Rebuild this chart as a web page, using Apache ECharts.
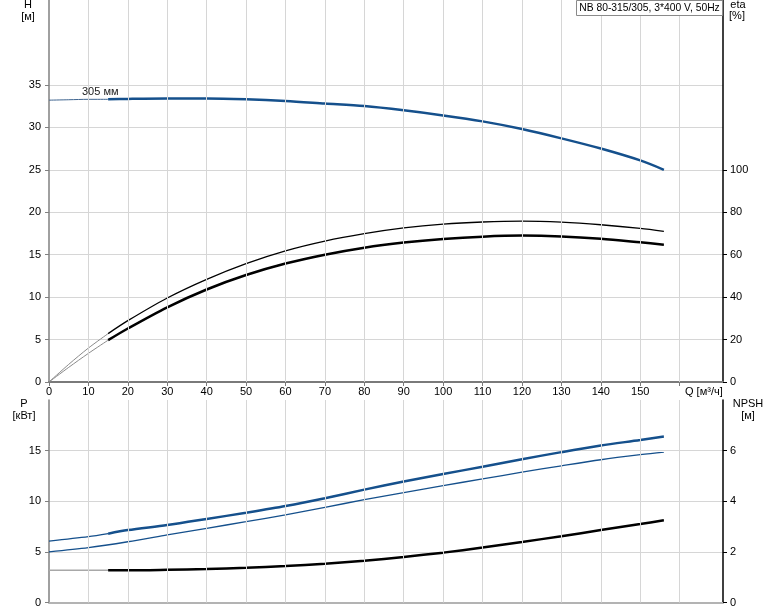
<!DOCTYPE html>
<html><head><meta charset="utf-8">
<script src="https://cdn.jsdelivr.net/npm/echarts@6/dist/echarts.min.js"></script>
<style>html,body{margin:0;padding:0;background:#fff}#c{width:774px;height:611px}</style>
</head><body><div id="c"></div>
<script>
// ---- data ----
const qGrid = [10,20,30,40,50,60,70,80,90,100,110,120,130,140,150,160];
const qTicks = [0,10,20,30,40,50,60,70,80,90,100,110,120,130,140,150,160];
const qLabels = [0,10,20,30,40,50,60,70,80,90,100,110,120,130,140,150];
const hLabels = [0,5,10,15,20,25,30,35];
const etaLabels = [0,20,40,60,80,100];
const pLabels = [0,5,10,15];
const npshLabels = [0,2,4,6];

const qHExt = [0,5,10,15];
const hExt = [33.2,33.25,33.3,33.3];
const qMain = [15,20,30,40,50,60,70,80,90,100,110,120,130,140,150,156];
const hMain = [33.3,33.35,33.4,33.4,33.3,33.1,32.8,32.5,32.0,31.4,30.7,29.8,28.7,27.5,26.1,25.0];

const qEtaExt = [0,5,10,15];
const eta1Ext = [0,8.3,16.0,22.8];
const eta2Ext = [0,6.9,13.5,19.7];
const eta1Main = [22.8,28.9,39.6,48.4,55.8,61.8,66.4,69.9,72.6,74.4,75.4,75.8,75.3,74.1,72.4,71.0];
const eta2Main = [19.7,25.2,35.2,43.6,50.4,55.8,60.0,63.3,65.7,67.4,68.5,69.0,68.6,67.5,65.8,64.7];

const qPExt = [0,10,15];
const p1Ext = [6.06,6.5,6.8];
const p1Main = [6.8,7.15,7.65,8.25,8.87,9.53,10.3,11.15,11.95,12.7,13.4,14.15,14.85,15.5,16.05,16.4];
const qP2 = [0,10,20,30,40,50,60,70,80,90,100,110,120,130,140,150,156];
const p2Vals = [5.0,5.42,6.0,6.67,7.33,7.98,8.65,9.4,10.15,10.85,11.55,12.2,12.87,13.5,14.1,14.6,14.86];

const qNExt = [0,15];
const npshExt = [1.27,1.27];
const npshMain = [1.27,1.27,1.29,1.32,1.37,1.44,1.53,1.65,1.80,1.97,2.17,2.39,2.62,2.86,3.10,3.25];

const curveLabel = {q: 13, h: 33.3, text: '305 мм'};
const titleText = 'NB 80-315/305, 3*400 V, 50Hz';

// ---- styling ----
const FONT = 'Liberation Sans, Arial, sans-serif';
const BLUE = '#15508c';
const GRIDC = '#d6d6d6';
const zip = (xs, ys) => xs.map((x, i) => [x, ys[i]]);
const txt = {color: '#000', fontSize: 11, fontFamily: FONT};

function yAx(grid, pos, max, interval, labels, lineColor, split) {
  return {
    type: 'value', gridIndex: grid, position: pos, min: 0, max: max, interval: interval,
    axisLine: {show: true, onZero: false, lineStyle: {color: lineColor, width: 1.5}},
    axisTick: {show: true, customValues: labels, length: 4, lineStyle: {color: lineColor}},
    axisLabel: Object.assign({show: true, customValues: labels, margin: pos === 'left' ? 8 : 7}, txt),
    splitLine: {show: split, lineStyle: {color: GRIDC, width: 1}}
  };
}

function gridSeries(xi, yi) {
  return {
    type: 'line', xAxisIndex: xi, yAxisIndex: yi, data: [], z: 1, silent: true, animation: false,
    markLine: {
      silent: true, symbol: ['none', 'none'], animation: false,
      label: {show: false},
      lineStyle: {color: GRIDC, width: 1, type: 'solid'},
      emphasis: {disabled: true},
      data: qGrid.map(v => ({xAxis: v}))
    }
  };
}

function line(xi, yi, data, color, width, extra) {
  return Object.assign({
    type: 'line', xAxisIndex: xi, yAxisIndex: yi, data: data, showSymbol: false, symbol: 'none',
    smooth: 0.3, z: 3, silent: true, animation: false,
    lineStyle: {color: color, width: width}
  }, extra || {});
}

const p1Data = zip(qMain, p1Main).map((d, i, a) => i === a.length - 1 ?
  {value: d, label: Object.assign({show: true, formatter: 'P1', position: 'top', distance: 1}, txt, {color: BLUE})} : d);
const p2Data = zip(qP2, p2Vals).map((d, i, a) => i === a.length - 1 ?
  {value: d, label: Object.assign({show: true, formatter: 'P2', position: 'bottom', distance: 2}, txt, {color: BLUE})} : d);

const option = {
  animation: false,
  backgroundColor: '#fff',
  grid: [
    {left: 49, top: 0, width: 674, height: 382},
    {left: 49, top: 400, width: 674, height: 202.5}
  ],
  xAxis: [
    {type: 'value', gridIndex: 0, min: 0, max: 171, interval: 10,
     axisLine: {show: true, onZero: false, lineStyle: {color: '#7a7a7a', width: 2}},
     axisTick: {show: true, customValues: qTicks, length: 4, lineStyle: {color: '#7a7a7a'}},
     axisLabel: Object.assign({show: true, customValues: qLabels, margin: 4}, txt),
     splitLine: {show: false}},
    {type: 'value', gridIndex: 1, min: 0, max: 171, interval: 10,
     axisLine: {show: true, onZero: false, lineStyle: {color: '#b3b3b3', width: 2}},
     axisTick: {show: false}, axisLabel: {show: false}, splitLine: {show: false}}
  ],
  yAxis: [
    yAx(0, 'left', 45, 5, hLabels, '#808080', true),
    yAx(0, 'right', 180, 20, etaLabels, '#000', false),
    yAx(1, 'left', 20, 5, pLabels, '#808080', true),
    yAx(1, 'right', 8, 2, npshLabels, '#000', false)
  ],
  series: [
    gridSeries(0, 0),
    gridSeries(1, 2),
    // H curve
    line(0, 0, zip(qHExt, hExt), '#3f6590', 1, {
      markPoint: {
        symbol: 'circle', symbolSize: 0, silent: true, animation: false,
        label: Object.assign({show: true, position: 'inside', offset: [0, -7], formatter: '{b}'}, txt, {color: '#222'}),
        data: [{name: curveLabel.text, coord: [curveLabel.q, curveLabel.h]}]
      }
    }),
    line(0, 0, zip(qMain, hMain), BLUE, 2.5),
    // efficiency curves
    line(0, 1, zip(qEtaExt, eta1Ext), '#8a8a8a', 1),
    line(0, 1, zip(qEtaExt, eta2Ext), '#8a8a8a', 1),
    line(0, 1, zip(qMain, eta1Main), '#000', 1.3),
    line(0, 1, zip(qMain, eta2Main), '#000', 2.5),
    // power curves
    line(1, 2, zip(qPExt, p1Ext), BLUE, 1.3),
    line(1, 2, p1Data, BLUE, 2.5),
    line(1, 2, p2Data, BLUE, 1.3),
    // NPSH
    line(1, 3, zip(qNExt, npshExt), '#a8a8a8', 1.5),
    line(1, 3, zip(qMain, npshMain), '#000', 2.5)
  ],
  graphic: [
    {type: 'text', x: 28, y: 5, style: {text: 'H', align: 'center', verticalAlign: 'middle', fill: '#000', font: '11px ' + FONT}},
    {type: 'text', x: 28, y: 17, style: {text: '[м]', align: 'center', verticalAlign: 'middle', fill: '#000', font: '11px ' + FONT}},
    {type: 'text', x: 738, y: 5, style: {text: 'eta', align: 'center', verticalAlign: 'middle', fill: '#000', font: '11px ' + FONT}},
    {type: 'text', x: 737, y: 16, style: {text: '[%]', align: 'center', verticalAlign: 'middle', fill: '#000', font: '11px ' + FONT}},
    {type: 'text', x: 24, y: 404, style: {text: 'P', align: 'center', verticalAlign: 'middle', fill: '#000', font: '11px ' + FONT}},
    {type: 'text', x: 24, y: 416, style: {text: '[кВт]', align: 'center', verticalAlign: 'middle', fill: '#000', font: '11px ' + FONT}},
    {type: 'text', x: 748, y: 404, style: {text: 'NPSH', align: 'center', verticalAlign: 'middle', fill: '#000', font: '11px ' + FONT}},
    {type: 'text', x: 748, y: 416, style: {text: '[м]', align: 'center', verticalAlign: 'middle', fill: '#000', font: '11px ' + FONT}},
    {type: 'text', x: 685, y: 392, style: {text: 'Q [м³/ч]', align: 'left', verticalAlign: 'middle', fill: '#000', font: '11px ' + FONT}},
    {type: 'rect', x: 576.5, y: 0.5, z: 10, shape: {x: 0, y: 0, width: 146, height: 15}, style: {fill: '#fff', stroke: '#8a8a8a', lineWidth: 1}},
    {type: 'text', x: 649.5, y: 8, z: 11, style: {text: titleText, align: 'center', verticalAlign: 'middle', fill: '#000', font: '10.3px ' + FONT}}
  ]
};

const chart = echarts.init(document.getElementById('c'), null, {renderer: 'canvas'});
chart.setOption(option);
</script>
</body></html>
